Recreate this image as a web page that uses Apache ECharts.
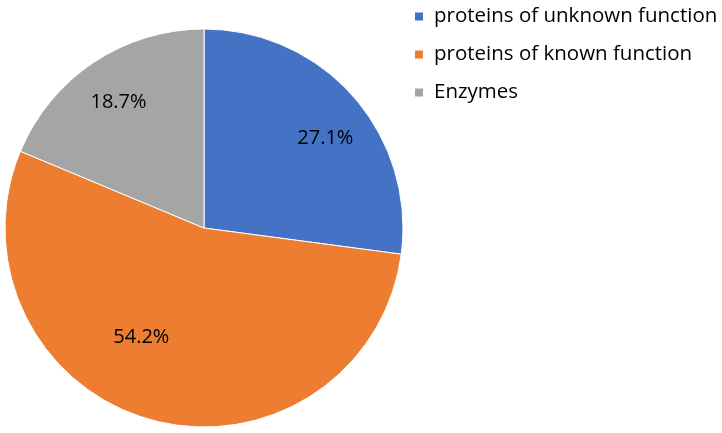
<!DOCTYPE html>
<html><head><meta charset="utf-8">
<script src="https://cdn.jsdelivr.net/npm/echarts@6/dist/echarts.min.js"></script>
<style>html,body{margin:0;padding:0;background:#fff}#c{width:722px;height:433px}</style>
</head><body><div id="c"></div>
<script>
var categories = ['proteins of unknown function', 'proteins of known function', 'Enzymes'];
var values = [27.1, 54.2, 18.7];
var colors = ['#4472C4', '#ED7D31', '#A5A5A5'];

var data = categories.map(function(n, i){ return {name: n, value: values[i], itemStyle:{color: colors[i]}}; });
var font = '"Open Sans", sans-serif';
var labelShift = [{dx: 4, dy: 13}, {dx: -22, dy: -41}, {dx: 1, dy: 4}];
var chart = echarts.init(document.getElementById('c'));
chart.setOption({
  animation: false,
  legend: {
    orient: 'vertical', left: 408, top: 1,
    itemWidth: 10, itemHeight: 10, itemGap: 17, icon: 'rect',
    textStyle: {fontFamily: font, fontSize: 20.5, color: '#000', padding: [0,0,0,5]},
    data: categories
  },
  series: [
    {
      type: 'pie', center: [204, 228], radius: [0, 199], startAngle: 90, clockwise: true,
      label: {show: false}, labelLine: {show: false},
      itemStyle: {borderColor: '#fff', borderWidth: 1},
      emphasis: {disabled: true},
      data: data
    },
    {
      type: 'pie', center: [204, 228], radius: [100, 206], startAngle: 90, clockwise: true,
      silent: true, legendHoverLink: false,
      itemStyle: {color: 'rgba(0,0,0,0)', borderWidth: 0},
      label: {show: true, position: 'inside', fontFamily: font, fontSize: 20, color: '#000',
        formatter: function(p){ return p.value.toFixed(1) + '%'; }},
      labelLine: {show: false},
      labelLayout: function(p){ return labelShift[p.dataIndex]; },
      emphasis: {disabled: true},
      data: categories.map(function(n, i){ return {name: n, value: values[i]}; })
    }
  ]
});
</script></body></html>
